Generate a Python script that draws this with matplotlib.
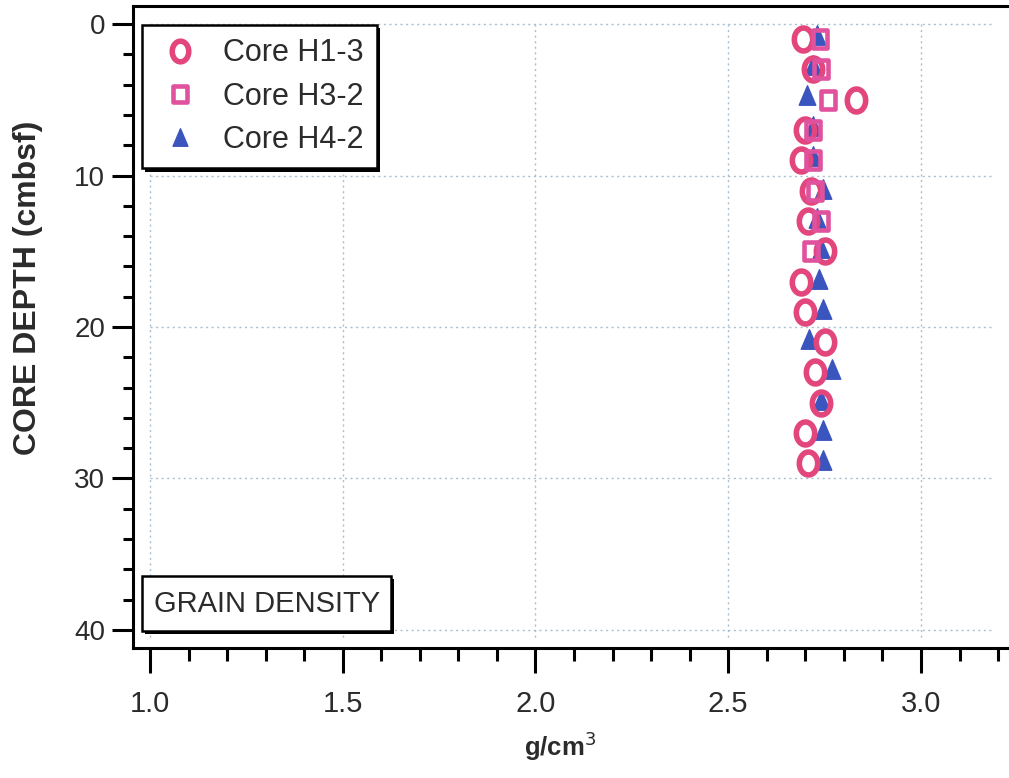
import matplotlib
matplotlib.use("Agg")
import matplotlib.pyplot as plt
import matplotlib.patheffects as pe
from matplotlib.path import Path
from matplotlib.patches import Rectangle
from matplotlib.ticker import MultipleLocator
import numpy as np

# Grain density (g/cm3) against core depth (cmbsf)
depth_h1_3 = [1, 3, 5, 7, 9, 11, 13, 15, 17, 19, 21, 23, 25, 27, 29]
dens_h1_3 = [2.694, 2.72, 2.831, 2.70, 2.69, 2.715, 2.707, 2.75, 2.69, 2.70,
             2.75, 2.725, 2.74, 2.70, 2.707]

depth_h3_2 = [1, 3, 5, 7, 9, 11, 13, 15]
dens_h3_2 = [2.738, 2.74, 2.76, 2.72, 2.72, 2.725, 2.74, 2.715]

depth_h4_2 = [0.7, 2.7, 4.7, 6.7, 8.7, 10.9, 12.8, 14.8, 16.8, 18.8, 20.8,
              22.8, 24.8, 26.8, 28.8]
dens_h4_2 = [2.73, 2.72, 2.705, 2.72, 2.72, 2.745, 2.73, 2.74, 2.735, 2.745,
             2.71, 2.77, 2.74, 2.745, 2.745]

series_labels = ["Core H1-3", "Core H3-2", "Core H4-2"]
x_ticks = [1.0, 1.5, 2.0, 2.5, 3.0]
y_ticks = [0, 10, 20, 30, 40]

W, H = 1009, 778
REG = ["Liberation Sans", "DejaVu Sans"]
TXT = "#2b2b2b"

plt.rcParams["font.family"] = REG


def px(x, y):
    return x / W, 1 - y / H


def ellipse(wr):
    t = np.linspace(0, 2 * np.pi, 64)
    return Path(np.column_stack([wr * np.cos(t), np.sin(t)]), closed=True)


def rect(wr):
    return Path([(-wr, -1), (wr, -1), (wr, 1), (-wr, 1), (-wr, -1)], closed=True)


def tri(wr):
    return Path([(0, 1), (-wr, -1), (wr, -1), (0, 1)], closed=True)


c_circ = "#E2467C"
c_sq = "#E0529E"
c_tri = "#3B55BF"

fig = plt.figure(figsize=(W / 100, H / 100), dpi=100)
ax_left, ax_right = 133, 1030
ax_top, ax_bot = 6, 648
ax = fig.add_axes([ax_left / W, 1 - ax_bot / H, (ax_right - ax_left) / W,
                   (ax_bot - ax_top) / H])

ppu_x = (921 - 150) / 2.0
ppu_y = (630 - 24) / 40.0
ax.set_xlim(1.0 - (150 - ax_left) / ppu_x, 1.0 + (ax_right - 150) / ppu_x)
ax.set_ylim(40 + (ax_bot - 630) / ppu_y, 0 - (24 - ax_top) / ppu_y)

# dotted grid inside the data area
gkw = dict(color="#A9BECE", linestyle=(0, (1.5, 2.5)), linewidth=1.0, zorder=0)
for xv in x_ticks:
    ax.plot([xv, xv], [0, 40.6], **gkw)
for yv in y_ticks:
    ax.plot([1.0, 3.19], [yv, yv], **gkw)

ax.plot(dens_h4_2, depth_h4_2, linestyle="none", marker=tri(0.85), ms=14,
        mfc=c_tri, mec=c_tri, mew=1.0, label=series_labels[2], zorder=3)
ax.plot(dens_h1_3, depth_h1_3, linestyle="none", marker=ellipse(0.8), ms=16.5,
        mfc="none", mec=c_circ, mew=4.0, label=series_labels[0], zorder=4)
ax.plot(dens_h3_2, depth_h3_2, linestyle="none", marker=rect(0.78), ms=13.5,
        mfc="none", mec=c_sq, mew=3.3, label=series_labels[1], zorder=5)

for side in ["top", "left", "bottom"]:
    ax.spines[side].set_linewidth(2.2)
ax.spines["right"].set_visible(False)

ax.xaxis.set_minor_locator(MultipleLocator(0.1))
ax.yaxis.set_minor_locator(MultipleLocator(2))
ax.set_xticks(x_ticks)
ax.set_yticks(y_ticks)
ax.set_xticklabels(["%.1f" % v for v in x_ticks], fontsize=21, color=TXT)
ax.set_yticklabels([str(v) for v in y_ticks], fontsize=20, color=TXT)
ax.tick_params(axis="x", which="major", direction="out", length=18, width=2.2,
               pad=12)
ax.tick_params(axis="x", which="minor", direction="out", length=9, width=2.2)
ax.tick_params(axis="y", which="major", direction="out", length=15, width=2.2,
               pad=5)
ax.tick_params(axis="y", which="minor", direction="out", length=7, width=2.2)

fig.text(*px(560, 746), r"g/cm$^3$", ha="center", va="center", fontsize=18.5,
         fontweight="bold", color=TXT)
fig.text(*px(28, 288), "CORE DEPTH (cmbsf)", ha="center", va="center",
         rotation=90, fontsize=23, fontweight="bold", color=TXT)

shadow = [pe.SimplePatchShadow(offset=(2.5, -2.5), shadow_rgbFace="k", alpha=1.0),
          pe.Normal()]

# legend
handles, labels = ax.get_legend_handles_labels()
order = [1, 2, 0]
lx, ly = px(142, 25)
leg = ax.legend([handles[i] for i in order], [labels[i] for i in order],
                loc="upper left", bbox_to_anchor=(lx, ly),
                bbox_transform=fig.transFigure, borderaxespad=0,
                fancybox=False, frameon=True, framealpha=1.0,
                prop={"size": 22}, handlelength=1.6, markerscale=0.9,
                handletextpad=0.6, labelspacing=0.43, borderpad=0.44)
for t in leg.get_texts():
    t.set_color(TXT)
frame = leg.get_frame()
frame.set_edgecolor("k")
frame.set_linewidth(1.8)
frame.set_path_effects(shadow)

# title box
x0, y0 = px(142, 631)
x1, y1 = px(391, 576)
box = Rectangle((x0, y0), x1 - x0, y1 - y0, transform=fig.transFigure,
                facecolor="white", edgecolor="k", linewidth=1.8, zorder=10)
box.set_path_effects(shadow)
fig.add_artist(box)
fig.text(*px(267, 604), "GRAIN DENSITY", ha="center", va="center",
         fontsize=21, color=TXT, zorder=11)

fig.savefig("out.png", dpi=100)
